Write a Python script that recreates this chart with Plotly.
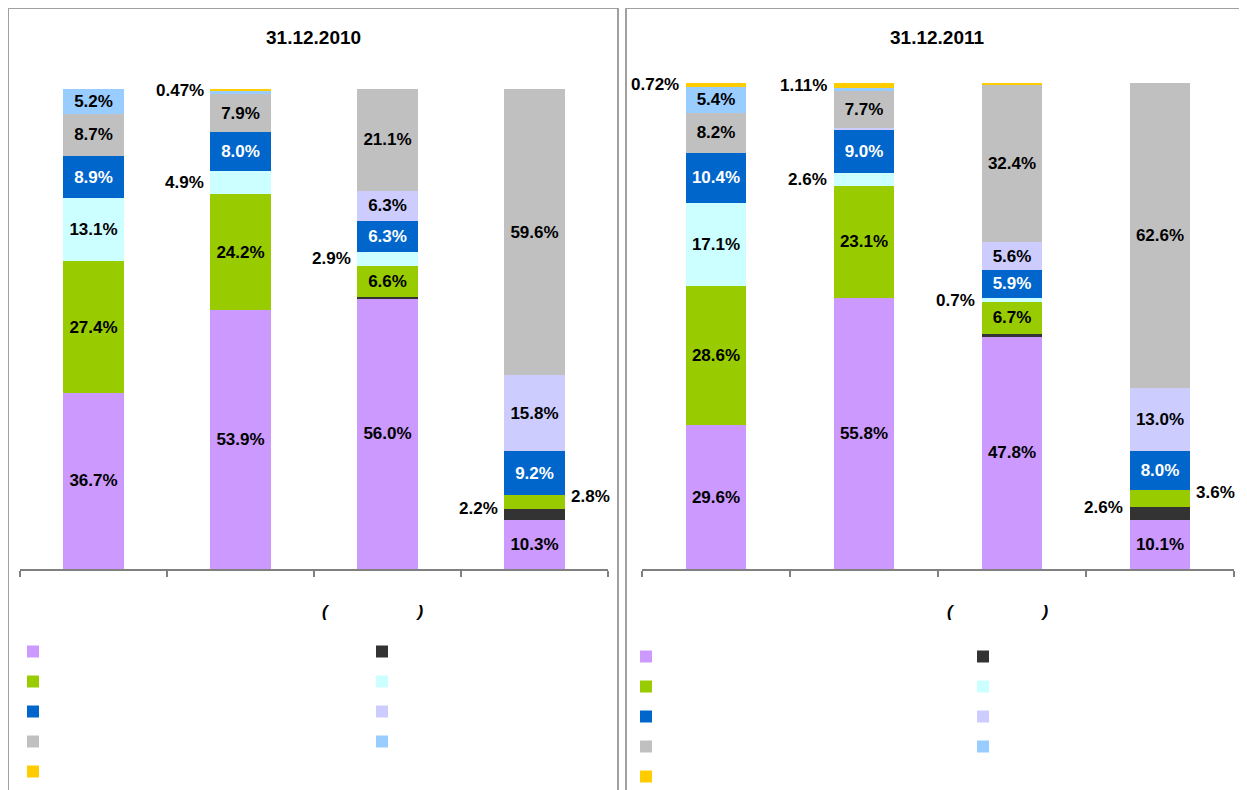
import plotly.graph_objects as go

# ---------------- data ----------------
categories = ["A", "B", "C", "D"]
titles = ["31.12.2010", "31.12.2011"]
series_names = [" ", " ", " ", " ", " ", " ", " ", " ", " "]
series_colors = ["#CC99FF", "#333333", "#99CC00", "#CCFFFF", "#0066CC",
                 "#CCCCFF", "#C0C0C0", "#99CCFF", "#FFCC00"]

purple_2010 = [36.7, 53.9, 56.0, 10.3]
black_2010 = [0, 0, 0.3, 2.2]
green_2010 = [27.4, 24.2, 6.6, 2.8]
cyan_2010 = [13.1, 4.9, 2.9, 0]
blue_2010 = [8.9, 8.0, 6.3, 9.2]
lavender_2010 = [0, 0, 6.3, 15.8]
gray_2010 = [8.7, 7.9, 21.1, 59.6]
lightblue_2010 = [5.2, 0.63, 0, 0]
yellow_2010 = [0, 0.47, 0, 0]

purple_2011 = [29.6, 55.8, 47.8, 10.1]
black_2011 = [0, 0, 0.5, 2.6]
green_2011 = [28.6, 23.1, 6.7, 3.6]
cyan_2011 = [17.1, 2.6, 0.7, 0]
blue_2011 = [10.4, 9.0, 5.9, 8.0]
lavender_2011 = [0, 0.3, 5.6, 13.0]
gray_2011 = [8.2, 7.7, 32.4, 62.6]
lightblue_2011 = [5.4, 0.4, 0, 0]
yellow_2011 = [0.72, 1.11, 0.4, 0]

data_2010 = [purple_2010, black_2010, green_2010, cyan_2010, blue_2010,
             lavender_2010, gray_2010, lightblue_2010, yellow_2010]
data_2011 = [purple_2011, black_2011, green_2011, cyan_2011, blue_2011,
             lavender_2011, gray_2011, lightblue_2011, yellow_2011]
panels = [data_2010, data_2011]

# labels placed beside the bar: (bar index, series index, side, yshift px)
side_labels = [
    [(1, 8, "left", 0), (1, 3, "left", 0), (2, 3, "left", 0),
     (3, 1, "left", 6), (3, 2, "right", 6)],
    [(0, 8, "left", 0), (1, 8, "left", 0), (1, 3, "left", 0),
     (2, 3, "left", 0), (3, 1, "left", 6), (3, 2, "right", 6)],
]

# ---------------- layout helpers ----------------
W, H = 1247, 790
OFF = 8  # page body margin


def px_x(p):
    return (p - OFF) / W


def px_y(p):
    return 1 - (p - OFF) / H


def fmt(v):
    if abs(v * 10 - round(v * 10)) < 1e-9:
        return f"{v:.1f}%"
    return f"{v:.2f}%"


FONT = "Liberation Sans, Arial, sans-serif"
LBL = 17
x_domains = [[px_x(20), px_x(608)], [px_x(642), px_x(1234)]]
y_domains = [[px_y(569), px_y(89)], [px_y(569), px_y(83)]]
legend_cols = [
    [(33, 651), (382, 651)],
    [(646, 656), (983, 656)],
]

fig = go.Figure()
annotations = []
shapes = []

for pi, data in enumerate(panels):
    xa = "x" if pi == 0 else "x2"
    ya = "y" if pi == 0 else "y2"
    totals = [sum(s[b] for s in data) for b in range(len(categories))]
    side_set = {(b, s) for b, s, _, _ in side_labels[pi]}
    for si, vals in enumerate(data):
        texts = []
        for b, v in enumerate(vals):
            if v >= 5 and (b, si) not in side_set:
                texts.append("<b>" + fmt(v) + "</b>")
            else:
                texts.append("")
        col = 0 if si % 2 == 0 else 1
        leg_index = pi * 2 + col + 1
        legname = "legend" if leg_index == 1 else f"legend{leg_index}"
        fig.add_trace(go.Bar(
            x=categories, y=vals, name=series_names[si],
            marker=dict(color=series_colors[si], line=dict(width=0)),
            text=texts, textposition="inside", insidetextanchor="middle",
            textangle=0,
            textfont=dict(family=FONT, size=LBL,
                          color="#FFFFFF" if si == 4 else "#000000"),
            xaxis=xa, yaxis=ya, legend=legname,
            legendgroup=f"g{pi}_{si}", hoverinfo="skip",
        ))
    # side labels
    for b, s, side, ysh in side_labels[pi]:
        below = sum(data[k][b] for k in range(s))
        center = (below + data[s][b] / 2) / totals[b] * 100
        annotations.append(dict(
            x=categories[b], y=center, xref=xa, yref=ya,
            text="<b>" + fmt(data[s][b]) + "</b>", showarrow=False,
            xanchor="right" if side == "left" else "left",
            xshift=-35 if side == "left" else 34, yshift=ysh,
            font=dict(family=FONT, size=LBL, color="#000000"),
        ))

# titles and axis captions
title_x = [313, 937]
paren_x = [372, 997]
for pi in range(2):
    annotations.append(dict(
        x=px_x(title_x[pi]), y=px_y(38), xref="paper", yref="paper",
        text="<b>" + titles[pi] + "</b>", showarrow=False,
        xanchor="center", yanchor="middle",
        font=dict(family=FONT, size=19, color="#000000"),
    ))
    annotations.append(dict(
        x=px_x(paren_x[pi]), y=px_y(611), xref="paper", yref="paper",
        text="<b><i>(" + "\u00a0" * 19 + ")</i></b>", showarrow=False,
        xanchor="center", yanchor="middle",
        font=dict(family=FONT, size=17, color="#000000"),
    ))

# panel borders
for x0, x1 in [(8, 618), (626, 1243)]:
    shapes.append(dict(
        type="rect", xref="paper", yref="paper",
        x0=px_x(x0), x1=px_x(x1), y0=-0.05, y1=px_y(8),
        line=dict(color="#A0A0A0", width=2), fillcolor="rgba(0,0,0,0)",
        layer="below",
    ))

axis_common = dict(
    showline=True, linecolor="#808080", linewidth=1.5,
    ticks="outside", ticklen=6, tickcolor="#808080", tickwidth=1.5,
    tickson="boundaries", showgrid=False, showticklabels=False,
    zeroline=False, fixedrange=True, type="category",
    range=[-0.5, len(categories) - 0.5], autorange=False,
)
yaxis_common = dict(range=[0, 100], visible=False, fixedrange=True,
                    autorange=False)

legend_common = dict(
    orientation="v", bgcolor="rgba(0,0,0,0)", borderwidth=0,
    font=dict(family=FONT, size=12), tracegroupgap=11,
    xanchor="left", yanchor="top", itemclick=False, itemdoubleclick=False,
)
legends = {}
for pi in range(2):
    for col in range(2):
        cx, cy = legend_cols[pi][col]
        idx = pi * 2 + col + 1
        key = "legend" if idx == 1 else f"legend{idx}"
        legends[key] = dict(legend_common, x=px_x(cx - 20), y=px_y(cy - 14))

fig.update_layout(
    width=W, height=H, margin=dict(l=0, r=0, t=0, b=0),
    paper_bgcolor="#FFFFFF", plot_bgcolor="#FFFFFF",
    barmode="stack", barnorm="percent", bargap=0.59,
    uniformtext=dict(minsize=LBL, mode="show"),
    xaxis=dict(axis_common, domain=x_domains[0], anchor="y"),
    yaxis=dict(yaxis_common, domain=y_domains[0], anchor="x"),
    xaxis2=dict(axis_common, domain=x_domains[1], anchor="y2"),
    yaxis2=dict(yaxis_common, domain=y_domains[1], anchor="x2"),
    annotations=annotations, shapes=shapes, showlegend=True,
    **legends,
)

fig.write_html("out.html")
